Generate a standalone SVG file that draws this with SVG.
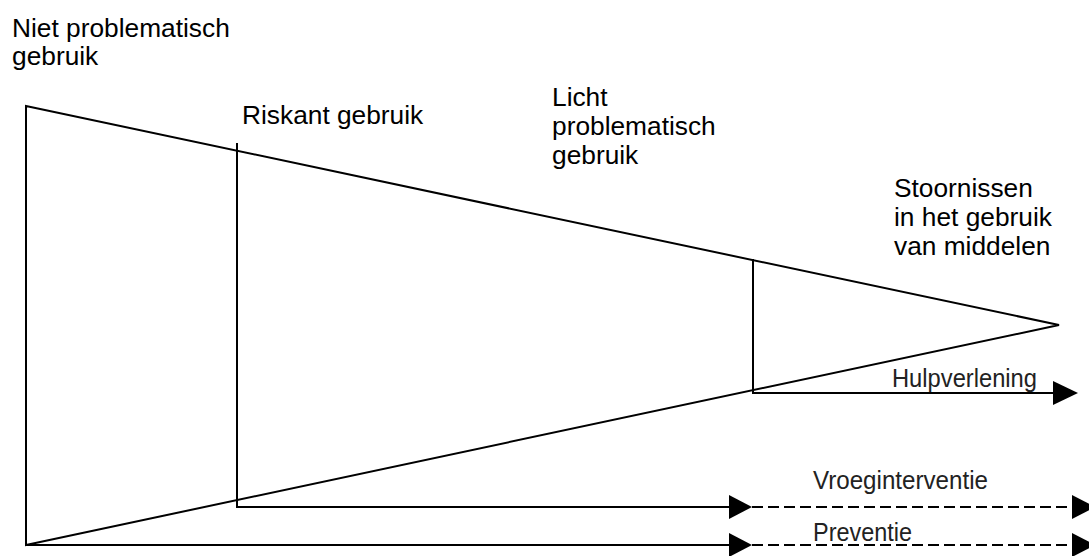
<svg xmlns="http://www.w3.org/2000/svg" width="1089" height="556" viewBox="0 0 1089 556">
<style>
.ln{stroke:#000;stroke-width:2;fill:none}
.ds{stroke:#000;stroke-width:2;fill:none;stroke-dasharray:11 5}
.lb{font-family:"Liberation Sans",Arial,sans-serif;font-size:26.3px;fill:#000}
.cl{font-family:"Liberation Sans",Arial,sans-serif;font-size:26px;fill:#222}
.ah{fill:#000}
</style>
<rect width="1089" height="556" fill="#fff"/>
<g id="funnel">
<path class="ln" d="M26,106 L1059,325 L26,545 Z"/>
</g>
<g id="niet">
<text class="lb" x="12" y="37">Niet problematisch</text>
<text class="lb" x="12" y="65">gebruik</text>
</g>
<g id="riskant">
<text class="lb" x="242" y="124">Riskant gebruik</text>
</g>
<g id="licht">
<text class="lb" x="552" y="106">Licht</text>
<text class="lb" x="552" y="135">problematisch</text>
<text class="lb" x="552" y="164">gebruik</text>
</g>
<g id="stoornissen">
<text class="lb" x="894" y="197">Stoornissen</text>
<text class="lb" x="894" y="226">in het gebruik</text>
<text class="lb" x="894" y="255">van middelen</text>
</g>
<g id="connectors">
<polyline class="ln" points="237,143 237,507 735,507"/>
<polygon class="ah" points="729,495 752,507 729,519"/>
<line class="ds" x1="752" y1="507" x2="1073" y2="507"/>
<polygon class="ah" points="1072,495 1095,507 1072,519"/>
<line class="ln" x1="26" y1="545" x2="735" y2="545"/>
<polygon class="ah" points="729,533 752,545 729,557"/>
<line class="ds" x1="752" y1="545" x2="1073" y2="545"/>
<polygon class="ah" points="1072,533 1095,545 1072,557"/>
<polyline class="ln" points="753,259 753,393 1055,393"/>
<polygon class="ah" points="1053,381 1078,393 1053,405"/>
</g>
<g id="labels">
<text class="cl" x="892" y="387" textLength="145" lengthAdjust="spacingAndGlyphs">Hulpverlening</text>
<text class="cl" x="813" y="489" textLength="175" lengthAdjust="spacingAndGlyphs">Vroeginterventie</text>
<text class="cl" x="813" y="541" textLength="99" lengthAdjust="spacingAndGlyphs">Preventie</text>
</g>
</svg>
